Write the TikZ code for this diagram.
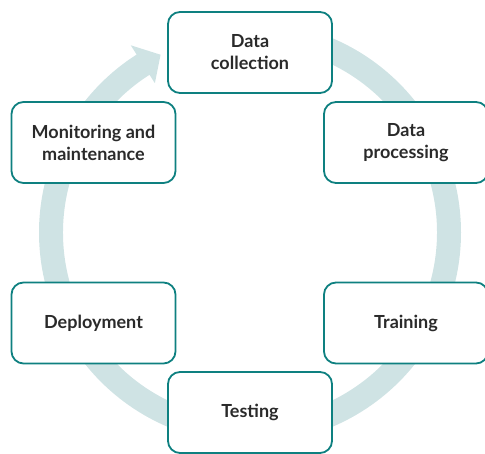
\documentclass[tikz,border=0pt]{standalone}
\usepackage{fontspec}
\setmainfont{Lato}
\definecolor{boxline}{HTML}{0E8080}
\definecolor{bandcol}{HTML}{CFE3E4}
\definecolor{txt}{HTML}{2A2A2A}
\begin{document}
\begin{tikzpicture}[x=1pt,y=1pt,
  stage/.style={draw=boxline, line width=1.8pt, fill=white, rounded corners=12pt,
    minimum width=164pt, minimum height=81pt, align=center, inner sep=0pt,
    text=txt, font=\fontsize{18}{22}\selectfont\bfseries}]
\useasboundingbox (0,0) rectangle (485,454);
% cycle band with arrow head
\begin{scope}[shift={(250,221.5)}]
  \fill[bandcol] (90:211) arc[start angle=90, end angle=-237.5, radius=211pt]
    -- (-237.5:222) -- (-243.3:199) -- (-237.5:177)
    -- (-237.5:187) arc[start angle=-237.5, end angle=90, radius=187pt] -- cycle;
\end{scope}
\node[stage] (collect) at (250,401.5) {Data\\collection};
\node[stage] (process) at (406,311.5) {Data\\processing};
\node[stage] (train) at (406,131) {Training};
\node[stage] (test) at (250,41.5) {Testing};
\node[stage] (deploy) at (93.5,131) {Deployment};
\node[stage] (monitor) at (93.5,311.5) {Monitoring and\\maintenance};
\end{tikzpicture}
\end{document}
